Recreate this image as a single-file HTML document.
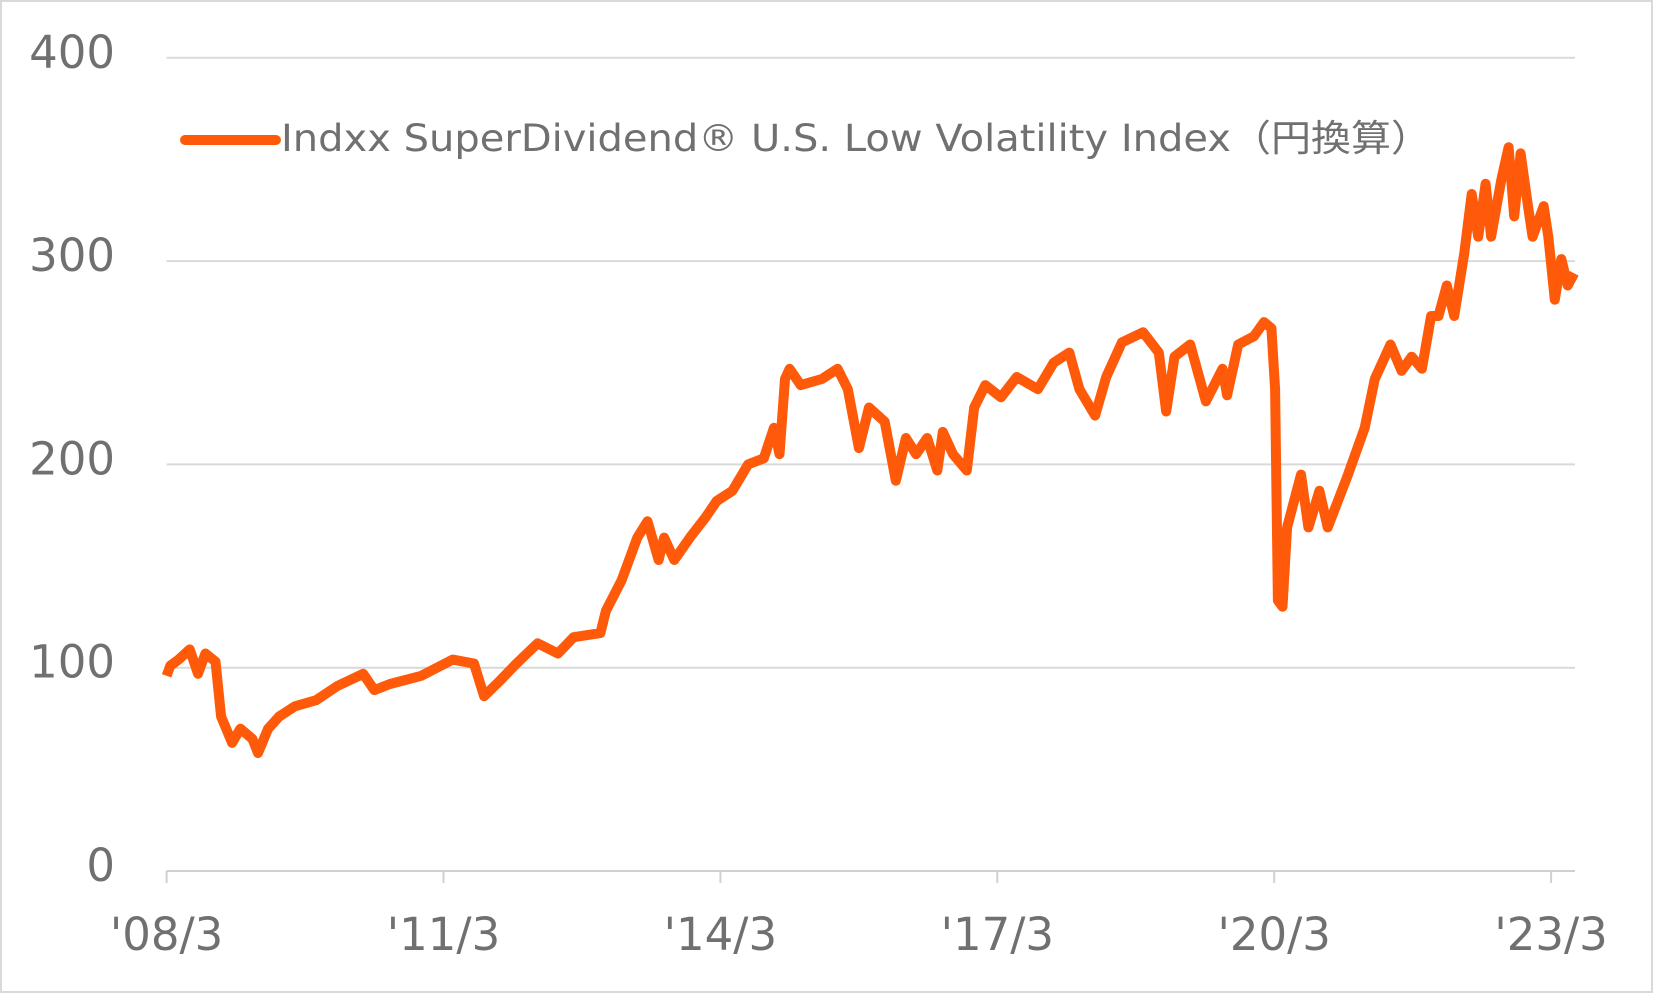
<!DOCTYPE html>
<html><head><meta charset="utf-8"><style>
html,body{margin:0;padding:0;background:#fff}
svg{display:block}
text{font-family:"DejaVu Sans","Noto Sans CJK JP",sans-serif;fill:#707070}
</style></head><body>
<svg id="chart" width="1653" height="993" viewBox="0 0 1653 993">
<rect x="1" y="1" width="1651" height="991" fill="#fff" stroke="#d9d9d9" stroke-width="2"/>
<g id="grid"></g><g id="axes"></g><g id="series"></g>
<g>
<line x1="185" y1="140" x2="276" y2="140" stroke="#ff5a0a" stroke-width="10" stroke-linecap="round"/>
<text x="281" y="151" font-size="37" textLength="1150" lengthAdjust="spacingAndGlyphs">Indxx SuperDividend® U.S. Low Volatility Index（円換算）</text>
</g>
</svg>
<script>
const yTicks=[0,100,200,300,400];
const xTickYears=[2008.17,2011.17,2014.17,2017.17,2020.17,2023.17];
const xTickLabels=["'08/3","'11/3","'14/3","'17/3","'20/3","'23/3"];
const dates=[2008.17,2008.21,2008.30,2008.42,2008.51,2008.59,2008.70,2008.76,2008.88,2008.97,2009.10,2009.16,2009.27,2009.39,2009.56,2009.79,2010.02,2010.30,2010.42,2010.59,2010.93,2011.27,2011.50,2011.61,2011.79,2011.96,2012.19,2012.41,2012.58,2012.87,2012.93,2013.10,2013.27,2013.38,2013.50,2013.56,2013.67,2013.84,2014.01,2014.13,2014.30,2014.47,2014.64,2014.75,2014.81,2014.87,2014.92,2015.04,2015.27,2015.44,2015.55,2015.67,2015.78,2015.95,2016.07,2016.18,2016.29,2016.41,2016.52,2016.58,2016.69,2016.84,2016.92,2017.04,2017.21,2017.38,2017.61,2017.78,2017.95,2018.06,2018.23,2018.35,2018.52,2018.75,2018.92,2019.00,2019.09,2019.26,2019.43,2019.61,2019.66,2019.78,2019.95,2020.06,2020.14,2020.18,2020.21,2020.26,2020.31,2020.46,2020.54,2020.66,2020.75,2020.86,2020.97,2021.15,2021.26,2021.43,2021.55,2021.66,2021.77,2021.87,2021.95,2022.04,2022.12,2022.23,2022.31,2022.38,2022.46,2022.52,2022.63,2022.71,2022.77,2022.84,2022.92,2022.97,2023.09,2023.14,2023.21,2023.28,2023.35,2023.42];
const values=[96,101,104,109,97,107,103,76,63,70,65,58,70,76,81,84,91,97,89,92,96,104,102,86,94,102,112,107,115,117,128,143,164,172,153,164,153,164,174,182,187,200,203,218,205,242,247,239,242,247,237,208,228,221,192,213,205,213,197,216,205,197,228,239,233,243,237,250,255,237,224,243,260,265,255,226,253,259,231,247,234,259,263,270,267,237,133,130,169,195,169,187,169,182,195,218,242,259,246,253,247,273,273,288,273,304,333,312,338,312,340,356,322,353,327,312,327,312,281,301,288,294];
const X0=166.6,X1=1575,Y0=871,PX=92.3,PY=2.033,T0=2008.17;
const xs=t=>X0+(t-T0)*PX, ys=v=>Y0-v*PY;
const NS="http://www.w3.org/2000/svg";
const grid=document.getElementById('grid'),axes=document.getElementById('axes'),ser=document.getElementById('series');
yTicks.forEach(v=>{
 if(v>0){const l=document.createElementNS(NS,'line');
 l.setAttribute('x1',X0);l.setAttribute('x2',X1);l.setAttribute('y1',ys(v));l.setAttribute('y2',ys(v));
 l.setAttribute('stroke','#d9d9d9');l.setAttribute('stroke-width','2');
 
 
 grid.appendChild(l);}
 const t=document.createElementNS(NS,'text');
 t.setAttribute('x',115);t.setAttribute('y',ys(v)+10);t.setAttribute('text-anchor','end');t.setAttribute('font-size','45');
 t.textContent=v;
 
 
 axes.appendChild(t);
});
const ax=document.createElementNS(NS,'line');
ax.setAttribute('x1',X0);ax.setAttribute('x2',X1);ax.setAttribute('y1',Y0);ax.setAttribute('y2',Y0);
ax.setAttribute('stroke','#d0d0d0');ax.setAttribute('stroke-width','2');


axes.appendChild(ax);
xTickYears.forEach((yr,i)=>{
 const l=document.createElementNS(NS,'line');
 l.setAttribute('x1',xs(yr));l.setAttribute('x2',xs(yr));l.setAttribute('y1',Y0);l.setAttribute('y2',Y0+12);
 l.setAttribute('stroke','#d0d0d0');l.setAttribute('stroke-width','2');
 
 
 axes.appendChild(l);
 const t=document.createElementNS(NS,'text');
 t.setAttribute('x',xs(yr));t.setAttribute('y',950);t.setAttribute('text-anchor','middle');t.setAttribute('font-size','45');
 t.textContent=xTickLabels[i];
 
 
 axes.appendChild(t);
});
const p=document.createElementNS(NS,'path');
p.setAttribute('d',dates.map((d,i)=>(i?'L':'M')+xs(d).toFixed(1)+' '+ys(values[i]).toFixed(1)).join(' '));
p.setAttribute('fill','none');p.setAttribute('stroke','#ff5a0a');p.setAttribute('stroke-width','10');p.setAttribute('stroke-linejoin','round');


ser.appendChild(p);
</script>
</body></html>
